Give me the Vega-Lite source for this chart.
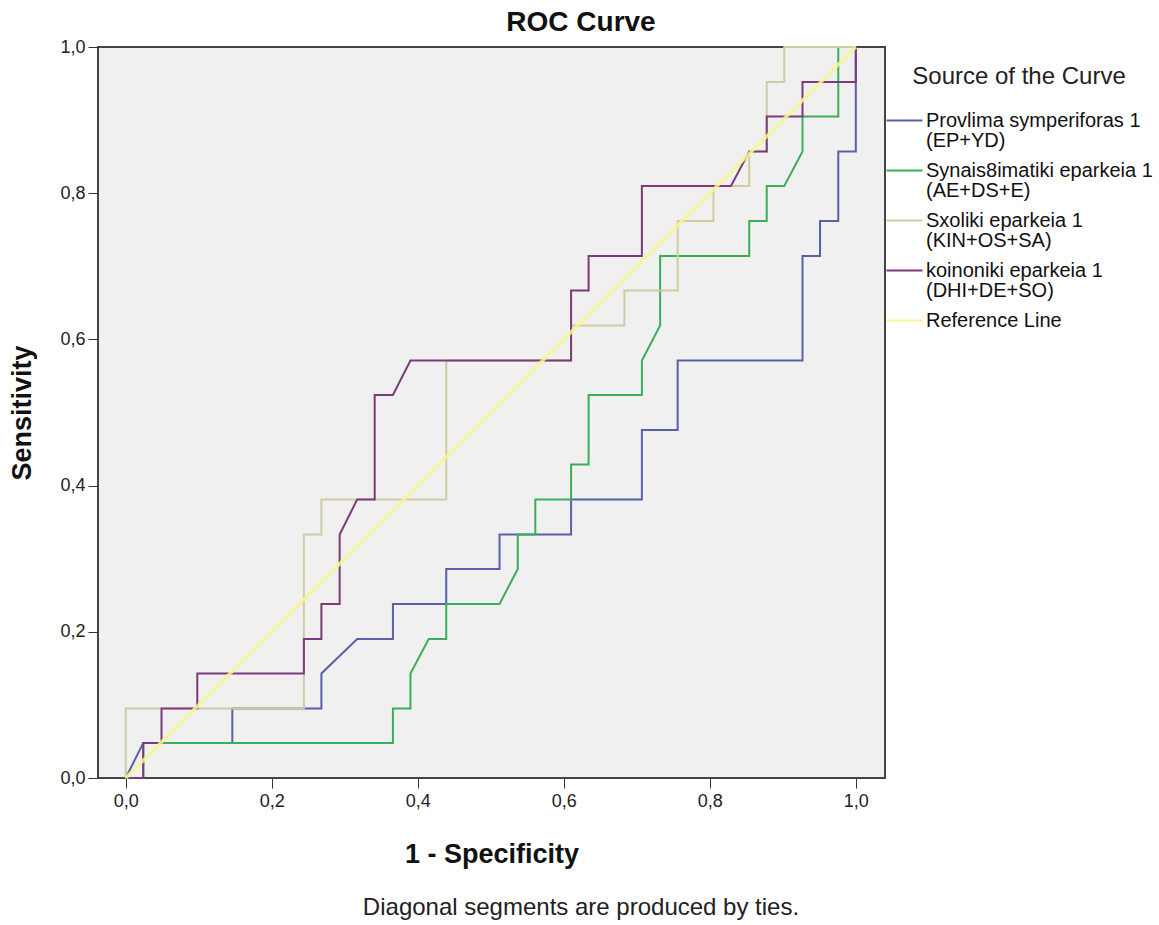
{
  "$schema": "https://vega.github.io/schema/vega-lite/v6.json",
  "background": "white",
  "padding": {"left": 7, "top": 9, "right": 0, "bottom": 0},
  "title": {"text": "ROC Curve", "anchor": "middle", "fontSize": 28, "fontWeight": "bold", "font": "Liberation Sans", "color": "#111111", "offset": 0},
  "config": {
    "font": "Liberation Sans",
    "view": {"fill": "#f0f0f0", "stroke": "#444444", "strokeWidth": 2},
    "axis": {"grid": false, "domain": false, "tickColor": "#333333", "tickSize": 10, "labelFontSize": 18, "labelColor": "#222222", "titleFontSize": 27, "titleFontWeight": "bold", "titleColor": "#111111", "labelFont": "Liberation Sans", "titleFont": "Liberation Sans"}
  },
  "resolve": {"legend": {"color": "independent"}},
  "vconcat": [
    {
      "title": {"text": "Diagonal segments are produced by ties.", "orient": "bottom", "anchor": "middle", "fontSize": 24, "fontWeight": "normal", "font": "Liberation Sans", "color": "#222222", "offset": 28},
      "resolve": {"legend": {"color": "independent"}},
      "vconcat": [
        {
          "width": 787,
          "height": 731,
          "data": {"values": [
            {"series": "Provlima symperiforas 1 (EP+YD)", "seq": 1, "fpr": 0, "tpr": 0},
            {"series": "Provlima symperiforas 1 (EP+YD)", "seq": 2, "fpr": 0.024, "tpr": 0.048},
            {"series": "Provlima symperiforas 1 (EP+YD)", "seq": 3, "fpr": 0.146, "tpr": 0.048},
            {"series": "Provlima symperiforas 1 (EP+YD)", "seq": 4, "fpr": 0.146, "tpr": 0.095},
            {"series": "Provlima symperiforas 1 (EP+YD)", "seq": 5, "fpr": 0.268, "tpr": 0.095},
            {"series": "Provlima symperiforas 1 (EP+YD)", "seq": 6, "fpr": 0.268, "tpr": 0.143},
            {"series": "Provlima symperiforas 1 (EP+YD)", "seq": 7, "fpr": 0.317, "tpr": 0.19},
            {"series": "Provlima symperiforas 1 (EP+YD)", "seq": 8, "fpr": 0.366, "tpr": 0.19},
            {"series": "Provlima symperiforas 1 (EP+YD)", "seq": 9, "fpr": 0.366, "tpr": 0.238},
            {"series": "Provlima symperiforas 1 (EP+YD)", "seq": 10, "fpr": 0.439, "tpr": 0.238},
            {"series": "Provlima symperiforas 1 (EP+YD)", "seq": 11, "fpr": 0.439, "tpr": 0.286},
            {"series": "Provlima symperiforas 1 (EP+YD)", "seq": 12, "fpr": 0.512, "tpr": 0.286},
            {"series": "Provlima symperiforas 1 (EP+YD)", "seq": 13, "fpr": 0.512, "tpr": 0.333},
            {"series": "Provlima symperiforas 1 (EP+YD)", "seq": 14, "fpr": 0.61, "tpr": 0.333},
            {"series": "Provlima symperiforas 1 (EP+YD)", "seq": 15, "fpr": 0.61, "tpr": 0.381},
            {"series": "Provlima symperiforas 1 (EP+YD)", "seq": 16, "fpr": 0.707, "tpr": 0.381},
            {"series": "Provlima symperiforas 1 (EP+YD)", "seq": 17, "fpr": 0.707, "tpr": 0.476},
            {"series": "Provlima symperiforas 1 (EP+YD)", "seq": 18, "fpr": 0.756, "tpr": 0.476},
            {"series": "Provlima symperiforas 1 (EP+YD)", "seq": 19, "fpr": 0.756, "tpr": 0.571},
            {"series": "Provlima symperiforas 1 (EP+YD)", "seq": 20, "fpr": 0.927, "tpr": 0.571},
            {"series": "Provlima symperiforas 1 (EP+YD)", "seq": 21, "fpr": 0.927, "tpr": 0.714},
            {"series": "Provlima symperiforas 1 (EP+YD)", "seq": 22, "fpr": 0.951, "tpr": 0.714},
            {"series": "Provlima symperiforas 1 (EP+YD)", "seq": 23, "fpr": 0.951, "tpr": 0.762},
            {"series": "Provlima symperiforas 1 (EP+YD)", "seq": 24, "fpr": 0.976, "tpr": 0.762},
            {"series": "Provlima symperiforas 1 (EP+YD)", "seq": 25, "fpr": 0.976, "tpr": 0.857},
            {"series": "Provlima symperiforas 1 (EP+YD)", "seq": 26, "fpr": 1, "tpr": 0.857},
            {"series": "Provlima symperiforas 1 (EP+YD)", "seq": 27, "fpr": 1, "tpr": 1},

            {"series": "Synais8imatiki eparkeia 1 (AE+DS+E)", "seq": 1, "fpr": 0, "tpr": 0},
            {"series": "Synais8imatiki eparkeia 1 (AE+DS+E)", "seq": 2, "fpr": 0.024, "tpr": 0},
            {"series": "Synais8imatiki eparkeia 1 (AE+DS+E)", "seq": 3, "fpr": 0.024, "tpr": 0.048},
            {"series": "Synais8imatiki eparkeia 1 (AE+DS+E)", "seq": 4, "fpr": 0.366, "tpr": 0.048},
            {"series": "Synais8imatiki eparkeia 1 (AE+DS+E)", "seq": 5, "fpr": 0.366, "tpr": 0.095},
            {"series": "Synais8imatiki eparkeia 1 (AE+DS+E)", "seq": 6, "fpr": 0.39, "tpr": 0.095},
            {"series": "Synais8imatiki eparkeia 1 (AE+DS+E)", "seq": 7, "fpr": 0.39, "tpr": 0.143},
            {"series": "Synais8imatiki eparkeia 1 (AE+DS+E)", "seq": 8, "fpr": 0.415, "tpr": 0.19},
            {"series": "Synais8imatiki eparkeia 1 (AE+DS+E)", "seq": 9, "fpr": 0.439, "tpr": 0.19},
            {"series": "Synais8imatiki eparkeia 1 (AE+DS+E)", "seq": 10, "fpr": 0.439, "tpr": 0.238},
            {"series": "Synais8imatiki eparkeia 1 (AE+DS+E)", "seq": 11, "fpr": 0.512, "tpr": 0.238},
            {"series": "Synais8imatiki eparkeia 1 (AE+DS+E)", "seq": 12, "fpr": 0.537, "tpr": 0.286},
            {"series": "Synais8imatiki eparkeia 1 (AE+DS+E)", "seq": 13, "fpr": 0.537, "tpr": 0.333},
            {"series": "Synais8imatiki eparkeia 1 (AE+DS+E)", "seq": 14, "fpr": 0.561, "tpr": 0.333},
            {"series": "Synais8imatiki eparkeia 1 (AE+DS+E)", "seq": 15, "fpr": 0.561, "tpr": 0.381},
            {"series": "Synais8imatiki eparkeia 1 (AE+DS+E)", "seq": 16, "fpr": 0.61, "tpr": 0.381},
            {"series": "Synais8imatiki eparkeia 1 (AE+DS+E)", "seq": 17, "fpr": 0.61, "tpr": 0.429},
            {"series": "Synais8imatiki eparkeia 1 (AE+DS+E)", "seq": 18, "fpr": 0.634, "tpr": 0.429},
            {"series": "Synais8imatiki eparkeia 1 (AE+DS+E)", "seq": 19, "fpr": 0.634, "tpr": 0.524},
            {"series": "Synais8imatiki eparkeia 1 (AE+DS+E)", "seq": 20, "fpr": 0.707, "tpr": 0.524},
            {"series": "Synais8imatiki eparkeia 1 (AE+DS+E)", "seq": 21, "fpr": 0.707, "tpr": 0.571},
            {"series": "Synais8imatiki eparkeia 1 (AE+DS+E)", "seq": 22, "fpr": 0.732, "tpr": 0.619},
            {"series": "Synais8imatiki eparkeia 1 (AE+DS+E)", "seq": 23, "fpr": 0.732, "tpr": 0.714},
            {"series": "Synais8imatiki eparkeia 1 (AE+DS+E)", "seq": 24, "fpr": 0.854, "tpr": 0.714},
            {"series": "Synais8imatiki eparkeia 1 (AE+DS+E)", "seq": 25, "fpr": 0.854, "tpr": 0.762},
            {"series": "Synais8imatiki eparkeia 1 (AE+DS+E)", "seq": 26, "fpr": 0.878, "tpr": 0.762},
            {"series": "Synais8imatiki eparkeia 1 (AE+DS+E)", "seq": 27, "fpr": 0.878, "tpr": 0.81},
            {"series": "Synais8imatiki eparkeia 1 (AE+DS+E)", "seq": 28, "fpr": 0.902, "tpr": 0.81},
            {"series": "Synais8imatiki eparkeia 1 (AE+DS+E)", "seq": 29, "fpr": 0.927, "tpr": 0.857},
            {"series": "Synais8imatiki eparkeia 1 (AE+DS+E)", "seq": 30, "fpr": 0.927, "tpr": 0.905},
            {"series": "Synais8imatiki eparkeia 1 (AE+DS+E)", "seq": 31, "fpr": 0.976, "tpr": 0.905},
            {"series": "Synais8imatiki eparkeia 1 (AE+DS+E)", "seq": 32, "fpr": 0.976, "tpr": 1},
            {"series": "Synais8imatiki eparkeia 1 (AE+DS+E)", "seq": 33, "fpr": 1, "tpr": 1},

            {"series": "Sxoliki eparkeia 1 (KIN+OS+SA)", "seq": 1, "fpr": 0, "tpr": 0},
            {"series": "Sxoliki eparkeia 1 (KIN+OS+SA)", "seq": 2, "fpr": 0, "tpr": 0.095},
            {"series": "Sxoliki eparkeia 1 (KIN+OS+SA)", "seq": 3, "fpr": 0.244, "tpr": 0.095},
            {"series": "Sxoliki eparkeia 1 (KIN+OS+SA)", "seq": 4, "fpr": 0.244, "tpr": 0.333},
            {"series": "Sxoliki eparkeia 1 (KIN+OS+SA)", "seq": 5, "fpr": 0.268, "tpr": 0.333},
            {"series": "Sxoliki eparkeia 1 (KIN+OS+SA)", "seq": 6, "fpr": 0.268, "tpr": 0.381},
            {"series": "Sxoliki eparkeia 1 (KIN+OS+SA)", "seq": 7, "fpr": 0.439, "tpr": 0.381},
            {"series": "Sxoliki eparkeia 1 (KIN+OS+SA)", "seq": 8, "fpr": 0.439, "tpr": 0.571},
            {"series": "Sxoliki eparkeia 1 (KIN+OS+SA)", "seq": 9, "fpr": 0.61, "tpr": 0.571},
            {"series": "Sxoliki eparkeia 1 (KIN+OS+SA)", "seq": 10, "fpr": 0.61, "tpr": 0.619},
            {"series": "Sxoliki eparkeia 1 (KIN+OS+SA)", "seq": 11, "fpr": 0.683, "tpr": 0.619},
            {"series": "Sxoliki eparkeia 1 (KIN+OS+SA)", "seq": 12, "fpr": 0.683, "tpr": 0.667},
            {"series": "Sxoliki eparkeia 1 (KIN+OS+SA)", "seq": 13, "fpr": 0.756, "tpr": 0.667},
            {"series": "Sxoliki eparkeia 1 (KIN+OS+SA)", "seq": 14, "fpr": 0.756, "tpr": 0.762},
            {"series": "Sxoliki eparkeia 1 (KIN+OS+SA)", "seq": 15, "fpr": 0.805, "tpr": 0.762},
            {"series": "Sxoliki eparkeia 1 (KIN+OS+SA)", "seq": 16, "fpr": 0.805, "tpr": 0.81},
            {"series": "Sxoliki eparkeia 1 (KIN+OS+SA)", "seq": 17, "fpr": 0.854, "tpr": 0.81},
            {"series": "Sxoliki eparkeia 1 (KIN+OS+SA)", "seq": 18, "fpr": 0.854, "tpr": 0.857},
            {"series": "Sxoliki eparkeia 1 (KIN+OS+SA)", "seq": 19, "fpr": 0.878, "tpr": 0.857},
            {"series": "Sxoliki eparkeia 1 (KIN+OS+SA)", "seq": 20, "fpr": 0.878, "tpr": 0.952},
            {"series": "Sxoliki eparkeia 1 (KIN+OS+SA)", "seq": 21, "fpr": 0.902, "tpr": 0.952},
            {"series": "Sxoliki eparkeia 1 (KIN+OS+SA)", "seq": 22, "fpr": 0.902, "tpr": 1},
            {"series": "Sxoliki eparkeia 1 (KIN+OS+SA)", "seq": 23, "fpr": 1, "tpr": 1},

            {"series": "koinoniki eparkeia 1 (DHI+DE+SO)", "seq": 1, "fpr": 0, "tpr": 0},
            {"series": "koinoniki eparkeia 1 (DHI+DE+SO)", "seq": 2, "fpr": 0.024, "tpr": 0},
            {"series": "koinoniki eparkeia 1 (DHI+DE+SO)", "seq": 3, "fpr": 0.024, "tpr": 0.048},
            {"series": "koinoniki eparkeia 1 (DHI+DE+SO)", "seq": 4, "fpr": 0.049, "tpr": 0.048},
            {"series": "koinoniki eparkeia 1 (DHI+DE+SO)", "seq": 5, "fpr": 0.049, "tpr": 0.095},
            {"series": "koinoniki eparkeia 1 (DHI+DE+SO)", "seq": 6, "fpr": 0.098, "tpr": 0.095},
            {"series": "koinoniki eparkeia 1 (DHI+DE+SO)", "seq": 7, "fpr": 0.098, "tpr": 0.143},
            {"series": "koinoniki eparkeia 1 (DHI+DE+SO)", "seq": 8, "fpr": 0.244, "tpr": 0.143},
            {"series": "koinoniki eparkeia 1 (DHI+DE+SO)", "seq": 9, "fpr": 0.244, "tpr": 0.19},
            {"series": "koinoniki eparkeia 1 (DHI+DE+SO)", "seq": 10, "fpr": 0.268, "tpr": 0.19},
            {"series": "koinoniki eparkeia 1 (DHI+DE+SO)", "seq": 11, "fpr": 0.268, "tpr": 0.238},
            {"series": "koinoniki eparkeia 1 (DHI+DE+SO)", "seq": 12, "fpr": 0.293, "tpr": 0.238},
            {"series": "koinoniki eparkeia 1 (DHI+DE+SO)", "seq": 13, "fpr": 0.293, "tpr": 0.333},
            {"series": "koinoniki eparkeia 1 (DHI+DE+SO)", "seq": 14, "fpr": 0.317, "tpr": 0.381},
            {"series": "koinoniki eparkeia 1 (DHI+DE+SO)", "seq": 15, "fpr": 0.341, "tpr": 0.381},
            {"series": "koinoniki eparkeia 1 (DHI+DE+SO)", "seq": 16, "fpr": 0.341, "tpr": 0.524},
            {"series": "koinoniki eparkeia 1 (DHI+DE+SO)", "seq": 17, "fpr": 0.366, "tpr": 0.524},
            {"series": "koinoniki eparkeia 1 (DHI+DE+SO)", "seq": 18, "fpr": 0.39, "tpr": 0.571},
            {"series": "koinoniki eparkeia 1 (DHI+DE+SO)", "seq": 19, "fpr": 0.61, "tpr": 0.571},
            {"series": "koinoniki eparkeia 1 (DHI+DE+SO)", "seq": 20, "fpr": 0.61, "tpr": 0.667},
            {"series": "koinoniki eparkeia 1 (DHI+DE+SO)", "seq": 21, "fpr": 0.634, "tpr": 0.667},
            {"series": "koinoniki eparkeia 1 (DHI+DE+SO)", "seq": 22, "fpr": 0.634, "tpr": 0.714},
            {"series": "koinoniki eparkeia 1 (DHI+DE+SO)", "seq": 23, "fpr": 0.707, "tpr": 0.714},
            {"series": "koinoniki eparkeia 1 (DHI+DE+SO)", "seq": 24, "fpr": 0.707, "tpr": 0.81},
            {"series": "koinoniki eparkeia 1 (DHI+DE+SO)", "seq": 25, "fpr": 0.829, "tpr": 0.81},
            {"series": "koinoniki eparkeia 1 (DHI+DE+SO)", "seq": 26, "fpr": 0.854, "tpr": 0.857},
            {"series": "koinoniki eparkeia 1 (DHI+DE+SO)", "seq": 27, "fpr": 0.878, "tpr": 0.857},
            {"series": "koinoniki eparkeia 1 (DHI+DE+SO)", "seq": 28, "fpr": 0.878, "tpr": 0.905},
            {"series": "koinoniki eparkeia 1 (DHI+DE+SO)", "seq": 29, "fpr": 0.927, "tpr": 0.905},
            {"series": "koinoniki eparkeia 1 (DHI+DE+SO)", "seq": 30, "fpr": 0.927, "tpr": 0.952},
            {"series": "koinoniki eparkeia 1 (DHI+DE+SO)", "seq": 31, "fpr": 1, "tpr": 0.952},
            {"series": "koinoniki eparkeia 1 (DHI+DE+SO)", "seq": 32, "fpr": 1, "tpr": 1},

            {"series": "Reference Line", "seq": 1, "fpr": 0, "tpr": 0},
            {"series": "Reference Line", "seq": 2, "fpr": 1, "tpr": 1}
          ]},
          "encoding": {
            "x": {"field": "fpr", "type": "quantitative", "scale": {"domain": [-0.038, 1.04], "nice": false, "zero": false},
                  "axis": {"values": [0, 0.2, 0.4, 0.6, 0.8, 1], "labelExpr": "replace(format(datum.value, '.1f'), '.', ',')", "title": "1 - Specificity", "labelPadding": 4, "titlePadding": 31}},
            "y": {"field": "tpr", "type": "quantitative", "scale": {"domain": [0, 1], "nice": false},
                  "axis": {"values": [0, 0.2, 0.4, 0.6, 0.8, 1], "labelExpr": "replace(format(datum.value, '.1f'), '.', ',')", "title": "Sensitivity", "labelPadding": 3, "titlePadding": 23}},
            "order": {"field": "seq", "type": "quantitative"},
            "color": {"field": "series", "type": "nominal",
              "scale": {"domain": ["Provlima symperiforas 1 (EP+YD)", "Synais8imatiki eparkeia 1 (AE+DS+E)", "Sxoliki eparkeia 1 (KIN+OS+SA)", "koinoniki eparkeia 1 (DHI+DE+SO)", "Reference Line"],
                        "range": ["#5a60a8", "#3cae58", "#d0cba2", "#7a3b78", "#f6f690"]},
              "legend": {"title": "Source of the Curve", "orient": "none", "legendX": 787, "legendY": 18,
                "titleFontSize": 24, "titleFontWeight": "normal", "titleColor": "#222222", "titleAnchor": "middle", "titlePadding": 12, "titleFont": "Liberation Sans", "titleLimit": 400,
                "labelFontSize": 20, "labelColor": "#111111", "labelLimit": 400, "labelOffset": 2, "labelFont": "Liberation Sans",
                "symbolType": "stroke", "symbolSize": 1300, "symbolStrokeWidth": 2, "rowPadding": 0, "padding": 0,
                "encode": {"labels": {"update": {"lineHeight": {"value": 20}}}},
                "labelExpr": "indexof(datum.label, ' (') > 0 ? [substring(datum.label, 0, indexof(datum.label, ' (')), substring(datum.label, indexof(datum.label, ' (') + 1)] : datum.label"}}
          },
          "layer": [
            {"transform": [{"filter": "datum.series !== 'Reference Line'"}], "mark": {"type": "line", "strokeWidth": 2, "interpolate": "linear"}},
            {"transform": [{"filter": "datum.series === 'Reference Line'"}], "mark": {"type": "line", "strokeWidth": 3.5, "opacity": 0.85, "interpolate": "linear"}}
          ]
        }
      ]
    }
  ]
}
